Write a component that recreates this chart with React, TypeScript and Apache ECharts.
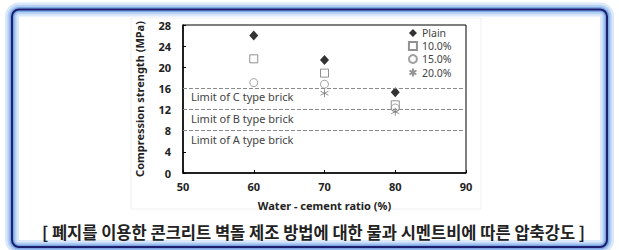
import React, { useEffect, useRef } from "react";
import * as echarts from "echarts";

const ratios = [60, 70, 80];
const plain = [26.0, 21.4, 15.3];
const pct10 = [21.6, 18.9, 12.9];
const pct15 = [17.1, 16.8, 12.3];
const pct20 = [null, 15.1, 11.6];
const seriesNames = ["Plain", "10.0%", "15.0%", "20.0%"];
const limitValues = [16, 12, 8];
const limitLabels = ["Limit of C type brick", "Limit of B type brick", "Limit of A type brick"];
const title = "[ 폐지를 이용한 콘크리트 벽돌 제조 방법에 대한 물과 시멘트비에 따른 압축강도 ]";

const asterisk = "path://M5 0 L5 10 M0.7 2.5 L9.3 7.5 M0.7 7.5 L9.3 2.5";

export default function App() {
  const ref = useRef<HTMLDivElement>(null);
  useEffect(() => {
    const chart = echarts.init(ref.current!, null, { renderer: "svg" });
    const font = "'Noto Sans', 'DejaVu Sans', sans-serif";
    const pts = (vals: (number | null)[]) =>
      ratios.map((r, i) => (vals[i] == null ? null : [r, vals[i]])).filter((d) => d);
    chart.setOption({
      animation: false,
      backgroundColor: "#fff",
      textStyle: { fontFamily: font },
      graphic: [
        { type: "rect", shape: { x: 12, y: 9.5, width: 595, height: 237.5, r: 7 }, style: { fill: "none", stroke: "#dbe8fa", lineWidth: 14 }, z: -10 },
        { type: "rect", shape: { x: 12, y: 9.5, width: 595, height: 237.5, r: 7 }, style: { fill: "none", stroke: "#b3cff3", lineWidth: 9 }, z: -9 },
        { type: "rect", shape: { x: 12, y: 9.5, width: 595, height: 237.5, r: 7 }, style: { fill: "none", stroke: "#7ea8e4", lineWidth: 5 }, z: -8 },
        { type: "rect", shape: { x: 12, y: 9.5, width: 595, height: 237.5, r: 7 }, style: { fill: "none", stroke: "#1d1f6e", lineWidth: 2 }, z: -7 },
        { type: "rect", shape: { x: 131, y: 18, width: 350, height: 191 }, style: { fill: "none", stroke: "#f0f0f0", lineWidth: 1 }, z: -6 },
        {
          type: "text",
          x: 313.5,
          y: 232,
          style: {
            text: title,
            fontSize: 16.5,
            fontWeight: "bold",
            fontFamily: "'Noto Sans CJK KR', sans-serif",
            fill: "#222",
            align: "center",
            verticalAlign: "middle",
          },
        },
      ],
      grid: { left: 183, right: 153, top: 25, bottom: 77, show: true, borderColor: "#000", borderWidth: 1 },
      legend: {
        orient: "vertical",
        left: 407,
        top: 27,
        padding: 0,
        itemWidth: 8,
        itemHeight: 8,
        itemGap: 1,
        data: seriesNames,
        textStyle: { fontSize: 10.5, lineHeight: 12, color: "#444", fontFamily: font },
      },
      xAxis: {
        type: "value",
        min: 50,
        max: 90,
        interval: 10,
        name: "Water - cement ratio (%)",
        nameLocation: "middle",
        nameGap: 27,
        nameTextStyle: { fontSize: 11, fontWeight: "bold", color: "#222" },
        axisLine: { lineStyle: { color: "#000", width: 1.5 } },
        axisTick: { inside: true, length: 3, lineStyle: { color: "#000" } },
        axisLabel: { fontSize: 11, fontWeight: "bold", color: "#222", margin: 8 },
        splitLine: { show: false },
      },
      yAxis: {
        type: "value",
        min: 0,
        max: 28,
        interval: 4,
        name: "Compression strength (MPa)",
        nameLocation: "middle",
        nameGap: 38,
        nameTextStyle: { fontSize: 11, fontWeight: "bold", color: "#222" },
        axisLine: { show: true, lineStyle: { color: "#000", width: 1.5 } },
        axisTick: { show: true, inside: true, length: 3, lineStyle: { color: "#000" } },
        axisLabel: { fontSize: 11, fontWeight: "bold", color: "#222", margin: 12 },
        splitLine: { show: false },
      },
      series: [
        {
          name: seriesNames[0],
          type: "scatter",
          symbol: "diamond",
          symbolSize: [9, 10],
          itemStyle: { color: "#000" },
          data: pts(plain),
          markLine: {
            silent: true,
            symbol: "none",
            lineStyle: { type: "dashed", color: "#8a8a8a", width: 1 },
            label: {
              show: true,
              position: "insideStartBottom",
              distance: [8, 3],
              fontSize: 11,
              color: "#444",
              formatter: (p: any) => limitLabels[limitValues.indexOf(p.value)],
            },
            data: limitValues.map((v) => ({ yAxis: v })),
          },
        },
        {
          name: seriesNames[1],
          type: "scatter",
          symbol: "rect",
          symbolSize: 8,
          itemStyle: { color: "#fff", borderColor: "#777", borderWidth: 1 },
          data: pts(pct10),
        },
        {
          name: seriesNames[2],
          type: "scatter",
          symbol: "circle",
          symbolSize: 8,
          itemStyle: { color: "#fff", borderColor: "#888", borderWidth: 1 },
          data: pts(pct15),
        },
        {
          name: seriesNames[3],
          type: "scatter",
          symbol: asterisk,
          symbolSize: 8,
          itemStyle: { color: "none", borderColor: "#777", borderWidth: 1 },
          data: pts(pct20),
        },
      ],
    });
    return () => chart.dispose();
  }, []);
  return <div ref={ref} style={{ position: "fixed", left: 0, top: 0, width: 619, height: 250 }} />;
}
